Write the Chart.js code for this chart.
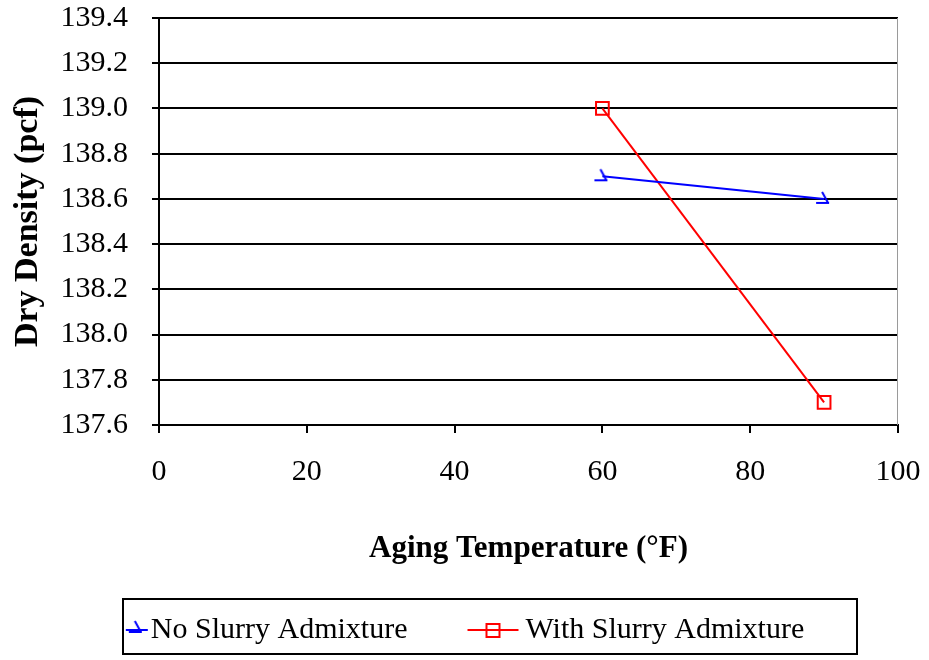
<!DOCTYPE html>
<html><head><meta charset="utf-8">
<script src="https://cdn.jsdelivr.net/npm/chart.js@4.4.1/dist/chart.umd.min.js"></script>
<style>html,body{margin:0;padding:0;background:#fff}</style>
</head><body>
<canvas id="c" width="929" height="660"></canvas>
<script>
// ---- data ----
const temperatures = [60, 90];
const noSlurry = [138.7, 138.6];
const withSlurry = [139.0, 137.7];
const seriesNames = ['No Slurry Admixture', 'With Slurry Admixture'];
const xTicks = [0, 20, 40, 60, 80, 100];
const yTicks = [137.6, 137.8, 138.0, 138.2, 138.4, 138.6, 138.8, 139.0, 139.2, 139.4];
const xTitle = 'Aging Temperature (\u00B0F)';
const yTitle = 'Dry Density (pcf)';

const BLUE = '#0000FF', RED = '#FF0000';
const FONT = '"Liberation Serif", "Times New Roman", serif';

function drawBlueMarker(ctx, cx, cy) {
  ctx.strokeStyle = BLUE; ctx.lineWidth = 2;
  ctx.beginPath();
  ctx.moveTo(cx - 2, cy - 6); ctx.lineTo(cx + 4, cy + 5);
  ctx.moveTo(cx - 8, cy + 5); ctx.lineTo(cx + 5, cy + 5);
  ctx.stroke();
}
function makeCanvas(w, h, fn) {
  const c = document.createElement('canvas'); c.width = w; c.height = h;
  fn(c.getContext('2d')); return c;
}
const blueMarker = makeCanvas(24, 24, ctx => drawBlueMarker(ctx, 12, 11));
// legend samples (transparent left part positions the visible sample)
const blueLegend = makeCanvas(112, 24, ctx => {
  ctx.strokeStyle = BLUE; ctx.lineWidth = 2;
  ctx.beginPath(); ctx.moveTo(89, 12); ctx.lineTo(111, 12); ctx.stroke();
  drawBlueMarker(ctx, 100, 9);
});
const redLegend = makeCanvas(106, 24, ctx => {
  ctx.strokeStyle = RED; ctx.lineWidth = 2;
  ctx.beginPath(); ctx.moveTo(53, 12); ctx.lineTo(104, 12); ctx.stroke();
  ctx.strokeRect(72, 6, 13, 13);
});
const legendImgs = [blueLegend, redLegend];

function zeroPad(s) { s.paddingTop = 0; s.paddingBottom = 0; s.paddingLeft = 0; s.paddingRight = 0; }

const chromePlugin = {
  id: 'chrome',
  afterLayout(chart) {
    const lg = chart.legend;
    if (lg) { lg.left -= 22; lg.right -= 22; }
  },
  beforeDatasetsDraw(chart) {
    const {ctx, chartArea: a} = chart;
    ctx.save();
    ctx.strokeStyle = '#9a9a9a'; ctx.lineWidth = 1;
    ctx.beginPath(); ctx.moveTo(a.right - 0.5, a.top); ctx.lineTo(a.right - 0.5, a.bottom); ctx.stroke();
    ctx.restore();
  },
  afterDraw(chart) {
    const lg = chart.legend; if (!lg) return;
    const ctx = chart.ctx;
    ctx.save();
    ctx.strokeStyle = '#000'; ctx.lineWidth = 2;
    ctx.strokeRect(123, lg.top + 1, 734, lg.bottom - lg.top - 2);
    ctx.restore();
  }
};

new Chart(document.getElementById('c'), {
  type: 'line',
  data: {
    datasets: [
      {
        label: seriesNames[0],
        data: temperatures.map((t, i) => ({x: t, y: noSlurry[i]})),
        borderColor: BLUE, borderWidth: 2, backgroundColor: BLUE,
        pointStyle: blueMarker, pointRadius: 6, pointHoverRadius: 6,
        tension: 0
      },
      {
        label: seriesNames[1],
        data: temperatures.map((t, i) => ({x: t, y: withSlurry[i]})),
        borderColor: RED, borderWidth: 2, backgroundColor: 'rgba(0,0,0,0)',
        pointStyle: 'rect', pointRadius: 9, pointHoverRadius: 9, pointBorderWidth: 2,
        tension: 0
      }
    ]
  },
  options: {
    responsive: false,
    animation: false,
    layout: { padding: { left: 0, right: 31, top: 18, bottom: 5 } },
    plugins: {
      tooltip: { enabled: false },
      legend: {
        position: 'bottom',
        labels: {
          usePointStyle: true,
          pointStyleWidth: 86,
          padding: 17,
          color: '#000',
          font: { family: FONT, size: 30 },
          generateLabels: chart => chart.data.datasets.map((ds, i) => ({
            text: ds.label, pointStyle: legendImgs[i], fontColor: '#000',
            hidden: false, datasetIndex: i, lineWidth: 0,
            strokeStyle: 'rgba(0,0,0,0)', fillStyle: 'rgba(0,0,0,0)'
          }))
        }
      }
    },
    scales: {
      x: {
        type: 'linear', min: 0, max: 100,
        afterBuildTicks: s => { s.ticks = xTicks.map(v => ({value: v})); },
        afterFit: s => { s.height = 173; zeroPad(s); },
        grid: { drawOnChartArea: false, drawTicks: true, tickLength: 8, color: '#000', lineWidth: 2 },
        border: { color: '#000', width: 2 },
        ticks: { color: '#000', padding: 21, font: { family: FONT, size: 30 }, maxRotation: 0 },
        title: { display: true, text: xTitle, color: '#000',
                 font: { family: FONT, size: 31, weight: 'bold' }, padding: { top: 0, bottom: 30 } }
      },
      y: {
        type: 'linear', min: 137.6, max: 139.4,
        afterBuildTicks: s => { s.ticks = yTicks.map(v => ({value: v})); },
        afterFit: s => { s.width = 159; zeroPad(s); },
        grid: { drawOnChartArea: true, drawTicks: true, tickLength: 7, color: '#000', lineWidth: 2 },
        border: { color: '#000', width: 2 },
        ticks: { color: '#000', padding: 24, font: { family: FONT, size: 30 },
                 callback: v => Number(v).toFixed(1) },
        title: { display: true, text: yTitle, color: '#000',
                 font: { family: FONT, size: 34, weight: 'bold' }, padding: { top: 8, bottom: 0 } }
      }
    }
  },
  plugins: [chromePlugin]
});
</script>
</body></html>
